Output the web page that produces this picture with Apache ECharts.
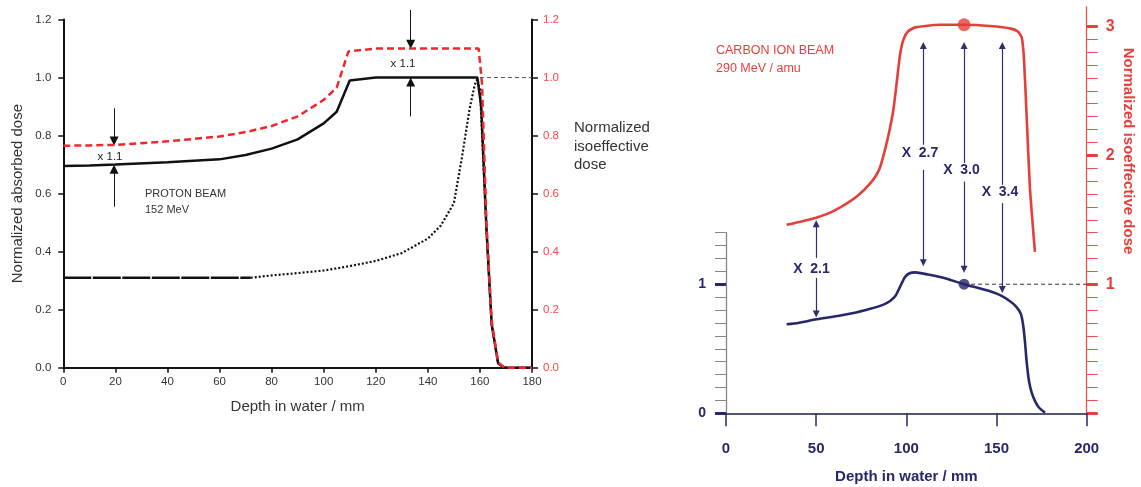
<!DOCTYPE html>
<html><head><meta charset="utf-8">
<script src="https://cdn.jsdelivr.net/npm/echarts@6/dist/echarts.min.js"></script>
<style>html,body{margin:0;padding:0;background:#fff}#c{width:1141px;height:487px}</style>
</head><body><div id="c"></div><script>
// ---------- Proton panel data (depth mm, normalized dose) ----------
const protonAbsDepth = [0,10,20,40,60,70,80,90,100,105,110,120,159,160.5,162.5,164.5,167,169.5,180];
const protonAbsDose  = [0.695,0.697,0.70,0.708,0.718,0.733,0.755,0.787,0.842,0.882,0.99,1.0,1.0,0.9,0.48,0.15,0.015,0,0];
const protonIsoDepth = [0,10,20,40,60,70,80,90,100,105,109.5,120,159.5,160.8,162.5,164.5,167,169.5,180];
const protonIsoDose  = [0.765,0.766,0.768,0.78,0.797,0.812,0.833,0.866,0.923,0.965,1.09,1.1,1.1,0.98,0.5,0.16,0.018,0,0];
const peakFlatDepth  = [0,72];
const peakFlatDose   = [0.31,0.31];
const peakDepth = [72,80,90,100,110,120,130,140,145,150,153,156,158,159,160,162.5,164.5,167,169.5,180];
const peakDose  = [0.31,0.318,0.326,0.335,0.35,0.368,0.395,0.445,0.49,0.567,0.72,0.89,0.975,0.995,0.96,0.48,0.15,0.015,0,0];
const protonRefDepth = [160,180];
const protonRefDose  = [1,1];
const protonArrows = [
  [[19.5,0.894],[19.5,0.781]],
  [[19.5,0.555],[19.5,0.684]],
  [[133.4,1.233],[133.4,1.115]],
  [[133.4,0.866],[133.4,0.985]]
];
const protonTicksX = [0,180,20];
const protonTicksY = [0,1.2,0.2];

// ---------- Carbon panel data ----------
const carbonAbsDepth = [33.6,40,50,60,70,80,87,91,94,96.5,99,101.5,105,112,120.5,132,140,146.4,152,157.5,161,163.5,164.8,165.8,166.7,168,169.5,171.5,173.5,176.9];
const carbonAbsDose  = [0.69,0.70,0.728,0.75,0.775,0.81,0.84,0.87,0.91,0.98,1.05,1.083,1.092,1.075,1.05,1.0,0.97,0.945,0.915,0.868,0.825,0.77,0.68,0.55,0.40,0.25,0.16,0.09,0.045,0.005];
const carbonIsoDepth = [33.6,40,50,60,72.5,80.8,85,87.2,90,92.8,94.8,96.5,98.5,101,105,118.5,132,146.4,158,162,164,165.2,166.7,168.5,171.3];
const carbonIsoDose  = [1.46,1.48,1.515,1.57,1.68,1.795,1.89,1.99,2.15,2.35,2.58,2.78,2.9,2.96,2.99,3.01,3.01,3.0,2.98,2.955,2.91,2.75,2.3,1.75,1.25];
const carbonRefDepth = [132,200];
const carbonRefDose  = [1,1];
const carbonDotNavy = [132,1.0];
const carbonDotRed  = [132,3.01];
const carbonArrows = [
  [[50,1.204],[50,1.468]],
  [[50,1.049],[50,0.77]],
  [[109.4,2.08],[109.4,2.85]],
  [[109.4,1.886],[109.4,1.167]],
  [[132,1.94],[132,2.85]],
  [[132,1.795],[132,1.116]],
  [[153.2,1.77],[153.2,2.85]],
  [[153.2,1.628],[153.2,0.96]]
];
const carbonRatioLabels = ['X  2.1','X  2.7','X  3.0','X  3.4'];
const carbonTicksX = [0,200,50];

const zip = (a,b) => a.map((v,i)=>[v,b[i]]);
const FONT = '"Liberation Sans", Arial, Helvetica, sans-serif';
const NAVY = '#27276b';
const RED = '#e63e3a';
const PRED = '#ff4646';

const chart = echarts.init(document.getElementById('c'), null, {renderer:'canvas'});
const hiddenX = g => ({gridIndex:g, type:'value', show:false, min:0, max:200, splitLine:{show:false}, axisLine:{onZero:false}});
const CL = {left:726, right:54.3, bottom:73.7, outerBoundsMode:'none', containLabel:false};

const option = {
  animation:false,
  backgroundColor:'#fff',
  textStyle:{fontFamily:FONT},
  grid:[
    {left:63.3, right:609, top:19.5, bottom:119.3, outerBoundsMode:'none', containLabel:false},
    Object.assign({top:6.7}, CL),
    Object.assign({top:26.3}, CL),
    Object.assign({top:26.3}, CL),
    Object.assign({top:232.7}, CL),
    Object.assign({top:284.3}, CL)
  ],
  xAxis:[
    {gridIndex:0, type:'value', min:protonTicksX[0], max:protonTicksX[1], interval:protonTicksX[2],
     axisLine:{onZero:false, lineStyle:{color:'#111', width:2}}, axisTick:{length:5, lineStyle:{color:'#111', width:1.5}},
     axisLabel:{color:'#333', fontSize:11.5, margin:8, fontFamily:FONT}, splitLine:{show:false},
     name:'Depth in water / mm', nameLocation:'middle', nameGap:32,
     nameTextStyle:{fontSize:15, color:'#333', fontFamily:FONT}},
    {gridIndex:1, type:'value', min:carbonTicksX[0], max:carbonTicksX[1], interval:carbonTicksX[2],
     axisLine:{onZero:false, lineStyle:{color:'#1d1d45', width:1.5}}, axisTick:{length:13, lineStyle:{color:NAVY, width:1.5}},
     axisLabel:{color:NAVY, fontSize:15, fontWeight:'bold', margin:28, fontFamily:FONT}, splitLine:{show:false},
     name:'Depth in water / mm', nameLocation:'middle', nameGap:56,
     nameTextStyle:{fontSize:15, fontWeight:'bold', color:NAVY, fontFamily:FONT}},
    hiddenX(2), hiddenX(3), hiddenX(4), hiddenX(5)
  ],
  yAxis:[
    {gridIndex:0, type:'value', position:'left', min:protonTicksY[0], max:protonTicksY[1], interval:protonTicksY[2],
     axisLine:{show:true, onZero:false, lineStyle:{color:'#111', width:2}}, axisTick:{show:true, length:5, lineStyle:{color:'#111', width:1.5}},
     axisLabel:{color:'#333', fontSize:11.5, margin:12, formatter:v=>v.toFixed(1)}, splitLine:{show:false},
     name:'Normalized absorbed dose', nameLocation:'middle', nameGap:38,
     nameTextStyle:{fontSize:15, color:'#333', fontFamily:FONT}},
    {gridIndex:0, type:'value', position:'right', min:protonTicksY[0], max:protonTicksY[1], interval:protonTicksY[2],
     axisLine:{show:true, onZero:false, lineStyle:{color:'#111', width:2}}, axisTick:{show:true, length:6, lineStyle:{color:'#111', width:1.5}},
     axisLabel:{color:PRED, fontSize:11.5, margin:11, formatter:v=>v.toFixed(1)}, splitLine:{show:false}},
    {gridIndex:1, type:'value', position:'right', min:0, max:3.15,
     axisLine:{show:true, onZero:false, lineStyle:{color:'#e2554f', width:1.3}}, axisTick:{show:false}, axisLabel:{show:false}, splitLine:{show:false}},
    {gridIndex:2, type:'value', position:'right', min:0, max:3, interval:0.1,
     axisLine:{show:false, onZero:false}, axisTick:{show:true, length:11, lineStyle:{color:'#e2554f', width:1}}, axisLabel:{show:false}, splitLine:{show:false}},
    {gridIndex:3, type:'value', position:'right', min:0, max:3, interval:1,
     axisLine:{show:false, onZero:false}, axisTick:{show:true, length:11, lineStyle:{color:RED, width:3}},
     axisLabel:{color:RED, fontSize:16, fontWeight:'bold', margin:19, formatter:v=>v===0?'':String(v)}, splitLine:{show:false}},
    {gridIndex:4, type:'value', position:'left', min:0, max:1.4, interval:0.1,
     axisLine:{show:true, onZero:false, lineStyle:{color:'#858595', width:1.3}}, axisTick:{show:true, length:11, lineStyle:{color:'#858595', width:1}},
     axisLabel:{show:false}, splitLine:{show:false}},
    {gridIndex:5, type:'value', position:'left', min:0, max:1, interval:1,
     axisLine:{show:false, onZero:false}, axisTick:{show:true, length:11, lineStyle:{color:NAVY, width:3}},
     axisLabel:{color:NAVY, fontSize:14, fontWeight:'bold', margin:20}, splitLine:{show:false}}
  ],
  series:[
    {type:'line', xAxisIndex:0, yAxisIndex:0, data:zip(peakFlatDepth,peakFlatDose), symbol:'none', silent:true,
     lineStyle:{color:'#111', width:2.4, type:[28,1.5]}},
    {type:'line', xAxisIndex:0, yAxisIndex:0, data:zip(peakDepth,peakDose), symbol:'none', silent:true,
     lineStyle:{color:'#111', width:2.2, type:[2,2]}},
    {type:'line', xAxisIndex:0, yAxisIndex:0, data:zip(protonAbsDepth,protonAbsDose), symbol:'none', silent:true,
     lineStyle:{color:'#111', width:2.5}},
    {type:'line', xAxisIndex:0, yAxisIndex:0, data:zip(protonIsoDepth,protonIsoDose), symbol:'none', silent:true,
     lineStyle:{color:'#f0282d', width:2.5, type:[7,4]}},
    {type:'line', xAxisIndex:0, yAxisIndex:1, data:zip(protonRefDepth,protonRefDose), symbol:'none', silent:true,
     lineStyle:{color:'#555', width:1, type:[4,3]}},
    {type:'lines', coordinateSystem:'cartesian2d', xAxisIndex:0, yAxisIndex:0, clip:false, silent:true,
     symbol:['none','triangle'], symbolSize:9,
     lineStyle:{color:'#111', width:1, opacity:1, curveness:0},
     data:protonArrows.map(c=>({coords:c}))},
    // carbon
    {type:'line', xAxisIndex:1, yAxisIndex:2, data:zip(carbonRefDepth,carbonRefDose), symbol:'none', silent:true,
     lineStyle:{color:'#333', width:1, type:[4,3]}},
    {type:'line', xAxisIndex:1, yAxisIndex:2, data:zip(carbonIsoDepth,carbonIsoDose), symbol:'none', smooth:0.2, clip:false, silent:true,
     lineStyle:{color:RED, width:2.6}},
    {type:'line', xAxisIndex:1, yAxisIndex:2, data:zip(carbonAbsDepth,carbonAbsDose), symbol:'none', smooth:0.2, clip:false, silent:true,
     lineStyle:{color:NAVY, width:2.6}},
    {type:'lines', coordinateSystem:'cartesian2d', xAxisIndex:1, yAxisIndex:2, clip:false, silent:true,
     symbol:['none','triangle'], symbolSize:7,
     lineStyle:{color:'#2f2f6e', width:1.2, opacity:1, curveness:0},
     data:carbonArrows.map(c=>({coords:c}))},
    {type:'scatter', xAxisIndex:1, yAxisIndex:2, data:[carbonDotNavy], symbol:'circle', symbolSize:11, itemStyle:{color:NAVY}, silent:true, clip:false},
    {type:'scatter', xAxisIndex:1, yAxisIndex:2, data:[carbonDotRed], symbol:'circle', symbolSize:13, itemStyle:{color:RED}, silent:true, clip:false}
  ],
  graphic:[
    {type:'text', x:110, y:157, style:{text:'x 1.1', fill:'#222', font:'11.5px '+FONT, align:'center', verticalAlign:'middle'}},
    {type:'text', x:403, y:63.5, style:{text:'x 1.1', fill:'#222', font:'11.5px '+FONT, align:'center', verticalAlign:'middle'}},
    {type:'text', x:145, y:193.5, style:{text:'PROTON BEAM', fill:'#333', font:'11px '+FONT, align:'left', verticalAlign:'middle'}},
    {type:'text', x:145, y:210, style:{text:'152 MeV', fill:'#333', font:'11px '+FONT, align:'left', verticalAlign:'middle'}},
    {type:'text', x:574, y:128, style:{text:'Normalized', fill:'#333', font:'15px '+FONT, align:'left', verticalAlign:'middle'}},
    {type:'text', x:574, y:146.5, style:{text:'isoeffective', fill:'#333', font:'15px '+FONT, align:'left', verticalAlign:'middle'}},
    {type:'text', x:574, y:165, style:{text:'dose', fill:'#333', font:'15px '+FONT, align:'left', verticalAlign:'middle'}},
    {type:'text', x:716, y:51, style:{text:'CARBON ION BEAM', fill:RED, font:'12.5px '+FONT, align:'left', verticalAlign:'middle'}},
    {type:'text', x:716, y:68.5, style:{text:'290 MeV / amu', fill:RED, font:'12.5px '+FONT, align:'left', verticalAlign:'middle'}},
    {type:'text', x:811.5, y:269.5, style:{text:carbonRatioLabels[0], fill:NAVY, font:'bold 14px '+FONT, align:'center', verticalAlign:'middle'}},
    {type:'text', x:920, y:153, style:{text:carbonRatioLabels[1], fill:NAVY, font:'bold 14px '+FONT, align:'center', verticalAlign:'middle'}},
    {type:'text', x:961.5, y:170, style:{text:carbonRatioLabels[2], fill:NAVY, font:'bold 14px '+FONT, align:'center', verticalAlign:'middle'}},
    {type:'text', x:1000, y:192.5, style:{text:carbonRatioLabels[3], fill:NAVY, font:'bold 14px '+FONT, align:'center', verticalAlign:'middle'}},
    {type:'text', x:1128, y:151, rotation:-Math.PI/2, style:{text:'Normalized isoeffective dose', fill:RED, font:'bold 15px '+FONT, align:'center', verticalAlign:'middle'}}
  ]
};
chart.setOption(option);
</script></body></html>
